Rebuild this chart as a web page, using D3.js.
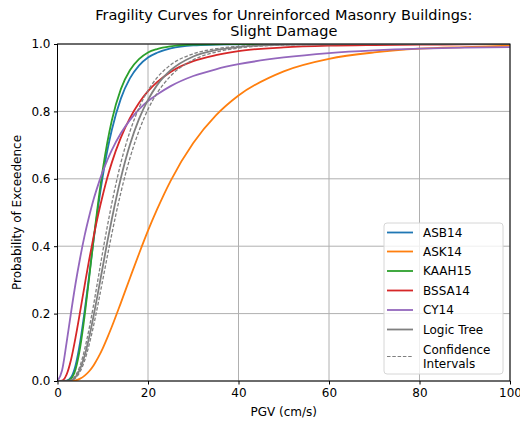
<!DOCTYPE html>
<html>
<head>
<meta charset="utf-8">
<script src="https://cdn.jsdelivr.net/npm/d3@7"></script>
<style>
  body { margin: 0; background: #fff; }
  text { font-family: "DejaVu Sans", sans-serif; fill: #000; }
</style>
</head>
<body>
<div id="chart"></div>
<script>
var width = 520,
    height = 427,
    margin = {
        top: 44,
        right: 10,
        bottom: 46,
        left: 57.5
    },
    innerWidth = width - margin.left - margin.right,
    innerHeight = height - margin.top - margin.bottom;

// PGV sample points (cm/s) read along the x axis
var pgv = [0, 1, 2, 3, 4, 5, 6, 7, 8, 9, 10, 11, 12, 14, 16, 18, 20, 22, 25, 30, 35, 40, 50, 60, 70, 80, 90, 100];

// probability of exceedence at those points
var asb14 = [0, 0, 0.001, 0.011, 0.047, 0.115, 0.208, 0.313, 0.420, 0.519, 0.607, 0.683, 0.745, 0.838, 0.898, 0.936, 0.960, 0.974, 0.987, 0.996, 0.998, 0.999, 1, 1, 1, 1, 1, 1];
var ask14 = [0, 0, 0, 0.0005, 0.002, 0.007, 0.016, 0.029, 0.047, 0.070, 0.097, 0.128, 0.161, 0.232, 0.305, 0.377, 0.446, 0.509, 0.594, 0.706, 0.788, 0.847, 0.919, 0.956, 0.975, 0.986, 0.991, 0.995];
var kaah15 = [0, 0, 0, 0.007, 0.035, 0.099, 0.194, 0.307, 0.423, 0.531, 0.627, 0.707, 0.773, 0.866, 0.922, 0.955, 0.975, 0.985, 0.993, 0.998, 0.999, 1, 1, 1, 1, 1, 1, 1];
var bssa14 = [0, 0.001, 0.019, 0.064, 0.130, 0.206, 0.284, 0.360, 0.430, 0.494, 0.551, 0.603, 0.648, 0.722, 0.780, 0.825, 0.860, 0.887, 0.917, 0.949, 0.967, 0.979, 0.990, 0.995, 0.997, 0.998, 0.999, 1];
var cy14 = [0, 0.031, 0.113, 0.204, 0.290, 0.365, 0.432, 0.489, 0.540, 0.583, 0.622, 0.655, 0.685, 0.735, 0.774, 0.806, 0.831, 0.850, 0.875, 0.905, 0.925, 0.940, 0.960, 0.973, 0.981, 0.986, 0.989, 0.991];
var logicTree = [0, 0, 0, 0.002, 0.012, 0.036, 0.076, 0.130, 0.195, 0.266, 0.339, 0.412, 0.480, 0.602, 0.701, 0.777, 0.834, 0.878, 0.922, 0.963, 0.982, 0.991, 0.998, 0.999, 1, 1, 1, 1];
var ciLower = [0, 0, 0, 0.002, 0.009, 0.028, 0.061, 0.108, 0.166, 0.231, 0.300, 0.369, 0.436, 0.559, 0.661, 0.742, 0.806, 0.854, 0.905, 0.953, 0.976, 0.988, 0.997, 0.999, 1, 1, 1, 1];
var ciUpper = [0, 0, 0, 0.003, 0.017, 0.046, 0.094, 0.156, 0.228, 0.306, 0.384, 0.458, 0.527, 0.647, 0.740, 0.810, 0.862, 0.900, 0.938, 0.971, 0.986, 0.993, 0.998, 1, 1, 1, 1, 1];

var xTicks = [0, 20, 40, 60, 80, 100];
var yTicks = [0, 0.2, 0.4, 0.6, 0.8, 1.0];

var series = [
    { name: "ASB14", values: asb14, color: "#1f77b4", width: 1.8, dash: null },
    { name: "ASK14", values: ask14, color: "#ff7f0e", width: 1.8, dash: null },
    { name: "KAAH15", values: kaah15, color: "#2ca02c", width: 1.8, dash: null },
    { name: "BSSA14", values: bssa14, color: "#d62728", width: 1.8, dash: null },
    { name: "CY14", values: cy14, color: "#9467bd", width: 1.8, dash: null },
    { name: "Logic Tree", values: logicTree, color: "#808080", width: 1.8, dash: null },
    { name: null, values: ciLower, color: "#808080", width: 1.3, dash: "3.5,1.8" },
    { name: null, values: ciUpper, color: "#808080", width: 1.3, dash: "3.5,1.8" }
];

var legendItems = [
    { label: ["ASB14"], color: "#1f77b4", width: 1.8, dash: null },
    { label: ["ASK14"], color: "#ff7f0e", width: 1.8, dash: null },
    { label: ["KAAH15"], color: "#2ca02c", width: 1.8, dash: null },
    { label: ["BSSA14"], color: "#d62728", width: 1.8, dash: null },
    { label: ["CY14"], color: "#9467bd", width: 1.8, dash: null },
    { label: ["Logic Tree"], color: "#808080", width: 1.8, dash: null },
    { label: ["Confidence", "Intervals"], color: "#808080", width: 1.2, dash: "3.5,1.8" }
];

var svg = d3.select("#chart")
    .append("svg")
    .attr("width", width)
    .attr("height", height);

var x = d3.scaleLinear()
    .domain([0, 100])
    .range([0, innerWidth]);

var y = d3.scaleLinear()
    .domain([0, 1])
    .range([innerHeight, 0]);

var g = svg.append("g")
    .attr("transform", `translate(${margin.left}, ${margin.top})`);

svg.append("defs")
    .append("clipPath")
    .attr("id", "clip")
    .append("rect")
    .attr("width", innerWidth)
    .attr("height", innerHeight);

// grid
g.append("g")
    .selectAll("line")
    .data(xTicks)
    .enter()
    .append("line")
    .attr("x1", d => x(d))
    .attr("x2", d => x(d))
    .attr("y1", 0)
    .attr("y2", innerHeight)
    .style("stroke", "#b0b0b0")
    .style("stroke-width", 1);

g.append("g")
    .selectAll("line")
    .data(yTicks)
    .enter()
    .append("line")
    .attr("x1", 0)
    .attr("x2", innerWidth)
    .attr("y1", d => y(d))
    .attr("y2", d => y(d))
    .style("stroke", "#b0b0b0")
    .style("stroke-width", 1);

// curves
var line = d3.line()
    .x((d, i) => x(pgv[i]))
    .y(d => y(d))
    .curve(d3.curveMonotoneX);

g.append("g")
    .attr("clip-path", "url(#clip)")
    .selectAll("path")
    .data(series)
    .enter()
    .append("path")
    .attr("d", d => line(d.values))
    .style("fill", "none")
    .style("stroke", d => d.color)
    .style("stroke-width", d => d.width)
    .style("stroke-dasharray", d => d.dash);

// axes
var xAxis = d3.axisBottom(x)
    .tickValues(xTicks)
    .tickSize(3.5)
    .tickPadding(3.5)
    .tickFormat(d3.format("d"));

var yAxis = d3.axisLeft(y)
    .tickValues(yTicks)
    .tickSize(3.5)
    .tickPadding(3.5)
    .tickFormat(d3.format(".1f"));

g.append("g")
    .attr("transform", `translate(0, ${innerHeight})`)
    .call(xAxis)
    .call(a => a.select(".domain").remove());

g.append("g")
    .call(yAxis)
    .call(a => a.select(".domain").remove());

g.selectAll(".tick text")
    .style("font-family", "DejaVu Sans")
    .style("font-size", "12px")
    .style("fill", "#000");

g.selectAll(".tick line")
    .style("stroke", "#000")
    .style("stroke-width", 1);

// spines
g.append("rect")
    .attr("width", innerWidth)
    .attr("height", innerHeight)
    .style("fill", "none")
    .style("stroke", "#000")
    .style("stroke-width", 1);

// titles
svg.append("text")
    .attr("x", margin.left + innerWidth / 2)
    .attr("y", 20)
    .style("text-anchor", "middle")
    .style("font-size", "14.5px")
    .text("Fragility Curves for Unreinforced Masonry Buildings:");

svg.append("text")
    .attr("x", margin.left + innerWidth / 2)
    .attr("y", 36)
    .style("text-anchor", "middle")
    .style("font-size", "14.5px")
    .text("Slight Damage");

svg.append("text")
    .attr("x", margin.left + innerWidth / 2)
    .attr("y", 416)
    .style("text-anchor", "middle")
    .style("font-size", "12px")
    .text("PGV (cm/s)");

svg.append("text")
    .attr("transform", "rotate(-90)")
    .attr("x", -(margin.top + innerHeight / 2))
    .attr("y", 21)
    .style("text-anchor", "middle")
    .style("font-size", "12px")
    .text("Probability of Exceedence");

// legend
var legend = svg.append("g")
    .attr("transform", "translate(384, 223)");

legend.append("rect")
    .attr("width", 119)
    .attr("height", 151)
    .attr("rx", 3)
    .attr("ry", 3)
    .style("fill", "#fff")
    .style("fill-opacity", 0.8)
    .style("stroke", "#d6d6d6")
    .style("stroke-width", 1);

var rowY = [9.5, 28.5, 48, 67.5, 87, 106.5, 133.5];

var rows = legend.selectAll("g.row")
    .data(legendItems)
    .enter()
    .append("g")
    .attr("class", "row")
    .attr("transform", (d, i) => `translate(0, ${rowY[i]})`);

rows.append("line")
    .attr("x1", 3)
    .attr("x2", 29)
    .attr("y1", 0)
    .attr("y2", 0)
    .style("stroke", d => d.color)
    .style("stroke-width", d => d.width)
    .style("stroke-dasharray", d => d.dash);

rows.each(function (d) {
    var row = d3.select(this);
    var n = d.label.length;
    d.label.forEach(function (t, j) {
        row.append("text")
            .attr("x", 39)
            .attr("y", (j - (n - 1) / 2) * 13.5 + 4.3)
            .style("font-size", "12px")
            .text(t);
    });
});
</script>
</body>
</html>
